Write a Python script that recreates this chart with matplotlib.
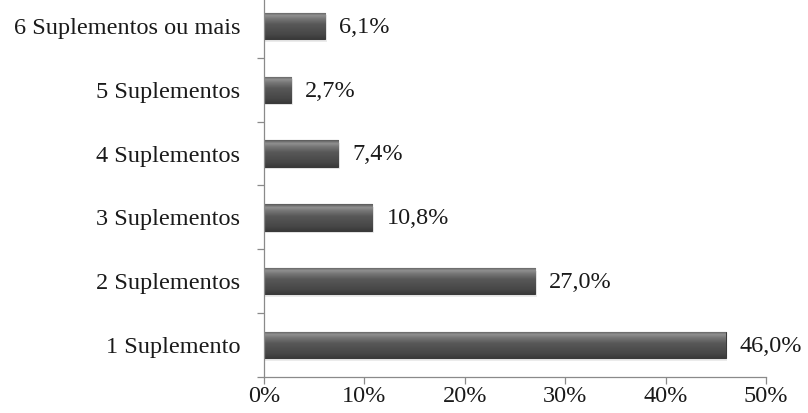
import matplotlib
matplotlib.use("Agg")
import matplotlib.pyplot as plt
import numpy as np
from matplotlib.colors import LinearSegmentedColormap

categories = ["1 Suplemento", "2 Suplementos", "3 Suplementos", "4 Suplementos",
              "5 Suplementos", "6 Suplementos ou mais"]
values = [46.0, 27.0, 10.8, 7.4, 2.7, 6.1]
value_labels = ["46,0%", "27,0%", "10,8%", "7,4%", "2,7%", "6,1%"]
xticks = [0, 10, 20, 30, 40, 50]
xtick_labels = ["0%", "10%", "20%", "30%", "40%", "50%"]

plt.rcParams['font.family'] = ['Liberation Serif', 'DejaVu Serif']
FS = 17.5

fig = plt.figure(figsize=(8.08, 4.13), dpi=100)
ax = fig.add_axes([264/808, 1 - 377/413, (766 - 264)/808, 383/413])

y = np.arange(len(categories))
bars = ax.barh(y, values, height=0.41, color="#555555", edgecolor="#3a3a3a",
               linewidth=0.8, zorder=2)

cmap = LinearSegmentedColormap.from_list(
    "bev", [(0.0, "#3a3a3a"), (0.15, "#464646"), (0.55, "#585858"),
            (0.78, "#7a7a7a"), (0.88, "#909090"), (1.0, "#5a5a5a")])
grad = np.linspace(0, 1, 64).reshape(-1, 1)
for b in bars:
    x0, y0 = b.get_x(), b.get_y()
    w, h = b.get_width(), b.get_height()
    im = ax.imshow(grad, extent=[x0, x0 + w, y0, y0 + h], origin="lower",
                   aspect="auto", cmap=cmap, zorder=2.5)
    im.set_clip_path(b)
    # soft shadow
    ax.barh(b.get_y() + h / 2 - 0.04, w + 0.15, height=h, left=x0,
            color="#000000", alpha=0.08, zorder=1.5, linewidth=0)

for yi, v, lab in zip(y, values, value_labels):
    ax.text(v + 1.4, yi - 0.02, lab, va="center", ha="left", fontsize=FS,
            color="#1a1a1a")

ax.set_xlim(0, 50)
ax.set_ylim(-0.5, len(categories) - 0.5)
ax.set_xticks(xticks)
ax.set_xticklabels(xtick_labels, fontsize=FS, color="#1a1a1a")
ax.set_yticks(y)
ax.set_yticklabels(categories, fontsize=FS, color="#1a1a1a")
ax.set_yticks(np.arange(-0.5, len(categories) - 0.5, 1.0), minor=True)
ax.tick_params(axis="y", which="major", length=0, pad=17)
ax.tick_params(axis="y", which="minor", length=5.3, color="#8a8a8a", width=0.9)
ax.tick_params(axis="x", which="major", length=4.8, color="#8a8a8a", width=0.9, pad=1.5)

for s in ["top", "right"]:
    ax.spines[s].set_visible(False)
for s in ["left", "bottom"]:
    ax.spines[s].set_color("#8a8a8a")
    ax.spines[s].set_linewidth(0.9)

fig.savefig("out.png", dpi=100)
